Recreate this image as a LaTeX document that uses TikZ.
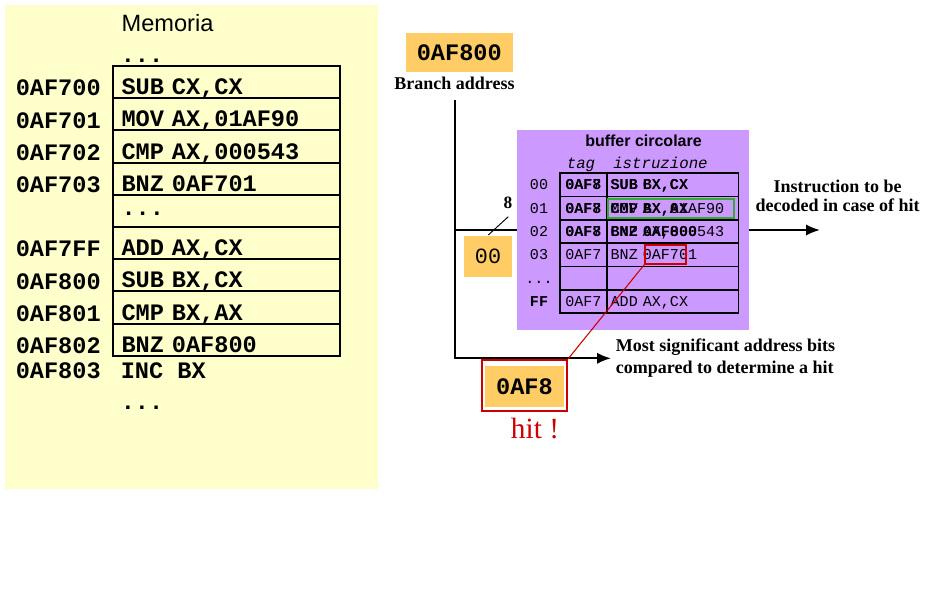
\documentclass[tikz,border=0pt]{standalone}
\usepackage{fontspec}
\usepackage{tikz}
\usetikzlibrary{arrows.meta}

\newfontfamily\codefont{Liberation Mono}
\newfontfamily\labelfont{Liberation Sans}
\newfontfamily\notefont{Liberation Serif}
% full-width spaces for the code font
\newcommand\fixspace{\fontdimen2\font=0.6em\fontdimen3\font=0pt\fontdimen4\font=0pt}
\newcommand\memfont{\codefont\bfseries\fontsize{17.7}{20}\selectfont\fixspace}
\newcommand\tabfont{\codefont\fontsize{11.3}{13}\selectfont\fixspace}
\newcommand\tabboldfont{\codefont\bfseries\fontsize{11.3}{13}\selectfont\fixspace}
\newcommand\capfont{\notefont\bfseries\fontsize{13.5}{16}\selectfont}

\definecolor{memyellow}{HTML}{FFFFCC}
\definecolor{addrorange}{HTML}{FFCC66}
\definecolor{bufviolet}{HTML}{CC99FF}
\definecolor{hitred}{HTML}{CC0000}
\definecolor{matchgreen}{HTML}{33AA33}

\begin{document}
\begin{tikzpicture}[x=0.75pt, y=-0.75pt, >={Latex[length=10.5pt,width=8.5pt]},
  wire/.style={line width=1.5pt},
  memcell/.style={draw, line width=1.5pt, anchor=south west, font=\memfont,
    minimum width=170.25pt, minimum height=24.15pt, text width=157.45pt,
    inner xsep=6.4pt, inner ysep=0pt, text height=19pt, text depth=0pt},
  memaddr/.style={font=\memfont, anchor=base east, inner sep=0pt},
  memtext/.style={font=\memfont, anchor=base west, inner sep=0pt},
  orangebox/.style={fill=addrorange, font=\memfont, inner sep=0pt},
  caption/.style={font=\capfont, inner sep=0pt},
  hdr/.style={font=\codefont\itshape\fontsize{11.8}{14}\selectfont, inner sep=0pt},
  tagcell/.style={draw, line width=1.2pt, font=\tabfont, minimum width=35pt,
    minimum height=17.5pt, inner sep=0pt, text height=7.3pt, text depth=0pt},
  inscell/.style={draw, line width=1.2pt, font=\tabfont, minimum height=17.5pt,
    text width=92.7pt, inner xsep=3pt, inner ysep=0pt, text height=7.3pt,
    text depth=0pt},
  rowlbl/.style={font=\tabfont, inner sep=0pt, text height=7.3pt, text depth=0pt}]

  \useasboundingbox (0,0) rectangle (929,592);

  % memory
  \fill[memyellow] (5,5) rectangle (378,489);
  \node[font=\labelfont\fontsize{17.7}{20}\selectfont, anchor=base, inner sep=0pt]
    (memtitle) at (167.5,31.7) {Memoria};
  \node[memtext] (dotstop) at (120.5,63) {...};
  \foreach \adr/\ins [count=\i from 0] in {0AF700/{SUB CX,CX}, 0AF701/{MOV AX,01AF90},
      0AF702/{CMP AX,000543}, 0AF703/{BNZ 0AF701}, {}/{\raisebox{6pt}{...}},
      0AF7FF/{ADD AX,CX}, 0AF800/{SUB BX,CX}, 0AF801/{CMP BX,AX}, 0AF802/{BNZ 0AF800}}
  {
    \pgfmathsetmacro\yb{67+32.2*(\i+1)}
    \node[memcell] (cell\i) at (112,\yb) {\ins};
    \node[memaddr] (addr\i) at (101,\yb-3.4) {\adr};
  }
  \node[memaddr] (addr9) at (101,378.5) {0AF803};
  \node[memtext] (ins9) at (120.5,378.5) {INC BX};
  \node[memtext] (dotsend) at (120.5,409.5) {...};

  % branch address
  \node[orangebox, minimum width=80pt, minimum height=29.25pt] (branch) at (459.3,52.8) {0AF800};
  \node[caption, anchor=base] (baddr) at (454.5,90) {Branch address};

  % buffer
  \node[fill=bufviolet, minimum width=173.8pt, minimum height=150pt, inner sep=0pt]
    (buf) at (633.2,230) {};
  \node[font=\labelfont\bfseries\fontsize{12}{14}\selectfont, anchor=base, inner sep=0pt]
    (buftitle) at (643.5,146.7) {buffer circolare};
  \node[hdr, anchor=base] (taghdr) at (581,168.3) {tag};
  \node[hdr, anchor=base west] (istrhdr) at (613,168.3) {istruzione};

  \foreach \lbl/\tg/\ins [count=\r from 0] in {00/0AF7/{SUB CX,CX}, 01/0AF7/{MOV AX,01AF90},
      02/0AF7/{CMP AX,000543}, 03/0AF7/{BNZ 0AF701}, {...}/{}/{}, {\bfseries FF}/0AF7/{ADD AX,CX}}
  {
    \pgfmathsetmacro\yc{173.3+23.33*(\r+0.5)}
    \node[tagcell] (t\r) at (583.35,\yc) {\tg};
    \node[inscell] (s\r) at (672.5,\yc) {\ins};
    \node[rowlbl] (l\r) at (539,\yc) {\lbl};
  }
  % new lines written over the old ones
  \foreach \tg/\ins [count=\r from 0] in {0AF8/{SUB BX,CX}, 0AF8/{CMP BX,AX}, 0AF8/{BNZ 0AF800}}
  {
    \node[tagcell, draw=none, font=\tabboldfont] (tn\r) at (t\r) {\tg};
    \node[inscell, draw=none, font=\tabboldfont] (sn\r) at (s\r) {\ins};
  }
  \node[draw=matchgreen, line width=1.2pt, minimum width=94.5pt, minimum height=14.25pt,
    inner sep=0pt] (match) at (671,208.5) {};
  \node[draw=hitred, line width=1.2pt, minimum width=30.75pt, minimum height=14.25pt,
    inner sep=0pt] (tagsel) at (665.5,254.5) {};

  % index bits
  \node[orangebox, font=\codefont\fontsize{16.3}{18}\selectfont, minimum width=36pt,
    minimum height=30.75pt] (index) at (488,256.5) {00};
  \draw[line width=0.7pt] (488.3,235) -- (508.3,216.7);
  \node[font=\notefont\bfseries\fontsize{13}{15}\selectfont, anchor=base, inner sep=0pt]
    (width) at (508,208.3) {8};

  % outputs
  \node[caption, align=left, font=\capfont\fontsize{13.5}{16.2}\selectfont, anchor=west,
    inner xsep=3.5pt] (msb) at (611,358.3)
    {Most significant address bits\\compared to determine a hit};
  \node[caption, align=center, font=\capfont\fontsize{13.5}{14.25}\selectfont, anchor=north]
    (dectxt) at (837.5,180.2) {Instruction to be\\decoded in case of hit};
  \coordinate (decode) at (820,230);

  \draw[wire, ->] ([yshift=-7.5pt]baddr.south) |- (msb.west);
  \draw[wire] (buf.west -| baddr.south) -- (buf.west);
  \draw[wire, ->] (buf.east) -- (decode);

  % hit
  \node[orangebox, minimum width=59.25pt, minimum height=30.75pt] (hittag) at (524.5,386.5) {0AF8};
  \node[draw=hitred, line width=1.5pt, minimum width=63.75pt, minimum height=38.25pt,
    inner sep=0pt] (hitframe) at (524.5,385.5) {};
  \draw[hitred, line width=0.8pt] (tagsel.south west) -- (hitframe.north east);
  \node[font=\notefont\fontsize{22}{24}\selectfont, text=hitred, anchor=base, inner sep=0pt]
    (hitlbl) at (535,438.3) {hit !};
\end{tikzpicture}
\end{document}
